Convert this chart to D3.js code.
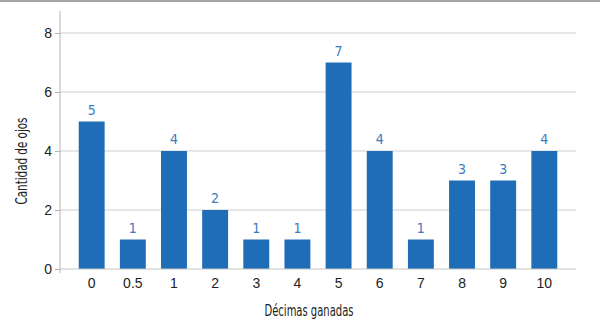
<!DOCTYPE html>
<html>
<head>
<meta charset="utf-8">
<script src="https://cdn.jsdelivr.net/npm/d3@7"></script>
<style>
  body { margin: 0; background: #fff; }
  svg { display: block; font-family: "DejaVu Sans Condensed", sans-serif; }
  .tick text { fill: #222; font-size: 14px; }
</style>
</head>
<body>
<div id="chart"></div>
<script>
const categories = ["0", "0.5", "1", "2", "3", "4", "5", "6", "7", "8", "9", "10"];
const counts = [5, 1, 4, 2, 1, 1, 7, 4, 1, 3, 3, 4];
const yTicks = [0, 2, 4, 6, 8];

const width = 600, height = 329;
const mLeft = 60, mRight = 576, mTop = 11, mBottom = 269;

const svg = d3.select("#chart").append("svg")
    .attr("width", width)
    .attr("height", height);

// thin grey rule along the top edge
svg.append("rect")
    .attr("x", 0).attr("y", 0)
    .attr("width", width).attr("height", 2)
    .attr("fill", "#a6a6a6");

const x = d3.scaleBand()
    .domain(categories)
    .range([mLeft, mRight])
    .paddingInner(0.37)
    .paddingOuter(0.455);

const y = d3.scaleLinear()
    .domain([0, 8])
    .range([mBottom, 33]);

// gridlines
svg.append("g")
    .selectAll("line")
    .data(yTicks.filter(d => d > 0))
    .join("line")
    .attr("x1", mLeft).attr("x2", mRight)
    .attr("y1", d => y(d)).attr("y2", d => y(d))
    .attr("stroke", "#cfcfcf")
    .attr("stroke-width", 1);

// y axis
const yAxis = svg.append("g")
    .attr("transform", `translate(${mLeft},0)`)
    .call(d3.axisLeft(y).tickValues(yTicks).tickSize(5).tickPadding(3));
yAxis.select(".domain").remove();
yAxis.selectAll(".tick line").attr("stroke", "#b5b5b5");
svg.append("line")
    .attr("x1", mLeft).attr("x2", mLeft)
    .attr("y1", mTop).attr("y2", mBottom + 4)
    .attr("stroke", "#b5b5b5");

// bars
svg.append("g")
    .selectAll("rect")
    .data(categories)
    .join("rect")
    .attr("x", d => x(d))
    .attr("width", x.bandwidth())
    .attr("y", (d, i) => y(counts[i]))
    .attr("height", (d, i) => y(0) - y(counts[i]))
    .attr("fill", "#1f6db6");

// value labels
svg.append("g")
    .selectAll("text")
    .data(categories)
    .join("text")
    .attr("x", d => x(d) + x.bandwidth() / 2)
    .attr("y", (d, i) => y(counts[i]) - 7)
    .attr("text-anchor", "middle")
    .attr("fill", "#3b7cc0")
    .attr("font-size", 14)
    .text((d, i) => counts[i]);

// x axis
const xAxis = svg.append("g")
    .attr("transform", `translate(0,${mBottom})`)
    .call(d3.axisBottom(x).tickSize(0).tickPadding(9));
xAxis.select(".domain").remove();
svg.append("line")
    .attr("x1", mLeft).attr("x2", mRight)
    .attr("y1", mBottom).attr("y2", mBottom)
    .attr("stroke", "#c4c4c4");

// axis titles (squeezed to the narrow width of the original face)
svg.append("text")
    .attr("x", 309).attr("y", 316)
    .attr("text-anchor", "middle")
    .attr("font-size", 15)
    .attr("fill", "#222")
    .attr("textLength", 89)
    .attr("lengthAdjust", "spacingAndGlyphs")
    .text("Décimas ganadas");

svg.append("text")
    .attr("transform", "translate(27,161) rotate(-90)")
    .attr("text-anchor", "middle")
    .attr("font-size", 15)
    .attr("fill", "#222")
    .attr("textLength", 87)
    .attr("lengthAdjust", "spacingAndGlyphs")
    .text("Cantidad de ojos");
</script>
</body>
</html>
